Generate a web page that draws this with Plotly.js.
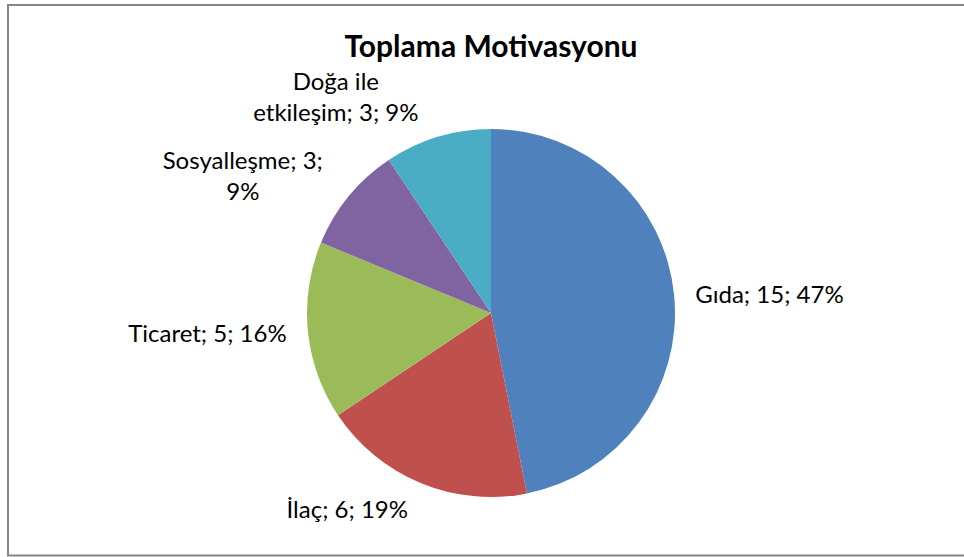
<!DOCTYPE html>
<html>
<head>
<meta charset="utf-8">
<script src="https://cdn.plot.ly/plotly-3.0.1.min.js"></script>
<style>
  html, body { margin: 0; padding: 0; background: #ffffff; }
  #chart { width: 964px; height: 557px; }
</style>
</head>
<body>
<div id="chart"></div>
<script>
const categories = ["Gıda", "İlaç", "Ticaret", "Sosyalleşme", "Doğa ile<br>etkileşim"];
const values = [15, 6, 5, 3, 3];
const colors = ["#4F81BD", "#C0504D", "#9BBB59", "#8064A2", "#4BACC6"];
const labelTemplates = [
  "%{label}; %{value}; %{percent:.0%}",
  "%{label}; %{value}; %{percent:.0%}",
  "%{label}; %{value}; %{percent:.0%}",
  "%{label}; %{value};<br>%{percent:.0%}",
  "%{label}; %{value}; %{percent:.0%}"
];

const W = 964, H = 557;
const cx = 491, cy = 313, r = 184;
const labelGap = 14;
const FONT = "Lato, 'Open Sans', sans-serif";

function domainFor(rad) {
  return {
    x: [(cx - rad) / W, (cx + rad) / W],
    y: [1 - (cy + rad) / H, 1 - (cy - rad) / H]
  };
}

// Invisible pie (same data) used only to place the outside labels a bit further out
const labelTrace = {
  type: "pie",
  labels: categories,
  values: values,
  sort: false,
  direction: "clockwise",
  rotation: 0,
  marker: { colors: colors.map(() => "rgba(0,0,0,0)"), line: { width: 0 } },
  textposition: "outside",
  texttemplate: labelTemplates,
  outsidetextfont: { family: FONT, size: 24, color: "#000000" },
  automargin: false,
  showlegend: false,
  hoverinfo: "skip",
  domain: domainFor(r + labelGap)
};

const pieTrace = {
  type: "pie",
  labels: categories,
  values: values,
  sort: false,
  direction: "clockwise",
  rotation: 0,
  marker: { colors: colors, line: { width: 0 } },
  textinfo: "none",
  showlegend: false,
  hoverinfo: "label+value+percent",
  domain: domainFor(r)
};

const layout = {
  width: W,
  height: H,
  margin: { l: 0, r: 0, t: 0, b: 0 },
  paper_bgcolor: "#ffffff",
  title: {
    text: "<b>Toplama Motivasyonu</b>",
    font: { family: FONT, size: 30, color: "#000000" },
    x: 491 / W,
    xanchor: "center",
    y: 1 - 46 / H,
    yanchor: "middle"
  },
  showlegend: false,
  shapes: [{
    type: "rect",
    xref: "paper", yref: "paper",
    x0: 8 / W, x1: 1.01,
    y0: 1 - 555.5 / H, y1: 1 - 5 / H,
    line: { color: "#868686", width: 2 },
    fillcolor: "rgba(0,0,0,0)",
    layer: "below"
  }]
};

Plotly.newPlot("chart", [labelTrace, pieTrace], layout, { displayModeBar: false, staticPlot: true });
</script>
</body>
</html>
